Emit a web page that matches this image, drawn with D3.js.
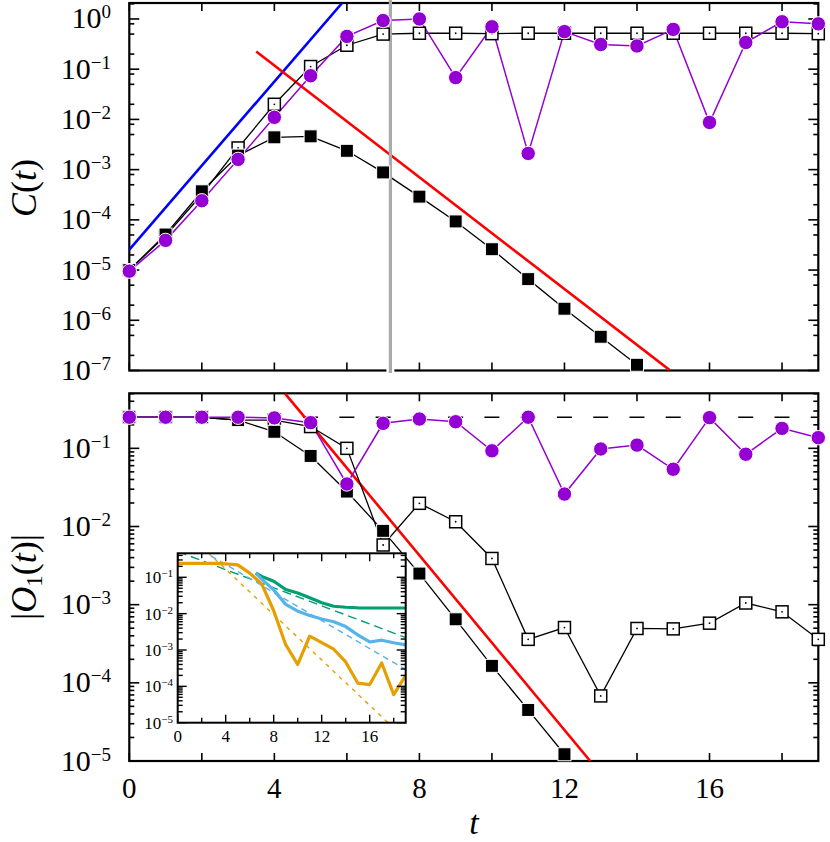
<!DOCTYPE html>
<html><head><meta charset="utf-8">
<script src="https://cdn.jsdelivr.net/npm/d3@7"></script>
<style>body{margin:0;background:#fff}svg{display:block}</style>
</head><body><svg id="c" width="830" height="842"></svg>
<script>
// ---------------- data ----------------
const times = [0,1,2,3,4,5,6,7,8,9,10,11,12,13,14,15,16,17,18,19];
// top panel C(t)
const cFilled = [1.0e-5,5.1e-5,3.7e-4,1.9e-3,4.4e-3,4.6e-3,2.37e-3,8.8e-4,2.9e-4,9.3e-5,2.6e-5,6.6e-6,1.7e-6,4.7e-7,1.3e-7];
const cOpen   = [1.0e-5,4.8e-5,3.2e-4,2.7e-3,0.020,0.113,0.30,0.50,0.52,0.52,0.51,0.52,0.52,0.52,0.52,0.52,0.52,0.52,0.52,0.51];
const cPurple = [0.95e-5,3.9e-5,2.4e-4,1.6e-3,0.011,0.074,0.45,0.93,1.0,0.068,0.70,2.1e-3,0.56,0.31,0.29,0.62,8.7e-3,0.34,0.88,0.80];
const blueFitTop = [[0,2.55e-5],[5.87,2.08]];
const redFitTop  = [[3.5,0.225],[14.9,1.02e-7]];
const grayT = 7.2;
// bottom panel |O1(t)|
const oFilled = [0.25,0.25,0.25,0.23,0.163,0.08,0.028,8.8e-3,2.5e-3,6.5e-4,1.65e-4,4.5e-5,1.22e-5];
const oOpen   = [0.25,0.25,0.25,0.23,0.23,0.19,0.10,5.8e-3,0.0198,0.0115,3.9e-3,3.6e-4,5.1e-4,6.8e-5,4.96e-4,4.9e-4,5.8e-4,1.05e-3,8.1e-4,3.6e-4];
const oPurple = [0.25,0.25,0.25,0.25,0.245,0.213,0.035,0.209,0.237,0.219,0.093,0.25,0.026,0.098,0.11,0.054,0.247,0.084,0.18,0.137];
const redFitBot = [[4.29,0.506],[12.71,1.0e-5]];
const plateau = 0.25;
// inset
const insetOrange = [0.24,0.24,0.24,0.24,0.235,0.22,0.13,0.066,0.012,1.4e-3,4.0e-4,2.4e-3,1.6e-3,1.05e-3,4.7e-4,1.23e-4,1.12e-4,4.4e-4,5.9e-5,2.0e-4];
const insetT2 = [6.5,7,8,9,10,11,12,13,14,15,16,17,18,19];
const insetGreen = [0.13,0.105,0.078,0.046,0.037,0.0275,0.02,0.016,0.015,0.0145,0.0143,0.0143,0.0143,0.0143];
const insetBlue  = [0.13,0.089,0.045,0.018,0.0117,0.0089,0.0071,0.006,0.0044,0.0026,0.00166,0.00186,0.00158,0.00138];
const insetGreenFit  = [[0,0.51],[19,2.2e-3]];
const insetBlueFit   = [[2.0,0.546],[19,2.9e-4]];
const insetOrangeFit = [[2.0,0.70],[17.6,9.5e-6]];
// ticks
const xTickVals = [0,2,4,6,8,10,12,14,16,18];
const xTickLabels = [0,4,8,12,16];
const topExps = [0,-1,-2,-3,-4,-5,-6,-7];
const botExps = [-1,-2,-3,-4,-5];
const insetExps = [-1,-2,-3,-4,-5];

// ---------------- setup ----------------
const FONT = '"Liberation Serif","DejaVu Serif",serif';
const svg = d3.select('#c');
const x = d3.scaleLinear().domain([0,19]).range([129.3,818.3]);
const yTop = d3.scaleLog().domain([1e-7, 2.08]).range([370.5,3]);
const yBot = d3.scaleLog().domain([1e-5, 0.506]).range([761,393.3]);
const xIn = d3.scaleLinear().domain([0,19]).range([177.7,405.7]);
const yIn = d3.scaleLog().domain([1e-5, 0.457]).range([722.7,553.3]);

const defs = svg.append('defs');
function clip(id, xs, ys){
  defs.append('clipPath').attr('id',id).append('rect')
    .attr('x',xs.range()[0]).attr('y',ys.range()[1])
    .attr('width',xs.range()[1]-xs.range()[0]).attr('height',ys.range()[0]-ys.range()[1]);
}
clip('cTop',x,yTop); clip('cBot',x,yBot); clip('cIn',xIn,yIn);

function logTicks(ys, mults){
  const [lo,hi] = ys.domain();
  const out=[];
  for(let e=Math.floor(Math.log10(lo)); e<=Math.ceil(Math.log10(hi)); e++){
    for(const m of mults){ const v=m*Math.pow(10,e); if(v>=lo*0.999 && v<=hi*1.001) out.push(v); }
  }
  return out;
}

function frame(g, xs, ys, o){
  const [x0,x1]=xs.range(), [y1,y0]=ys.range();
  o.xTicks.forEach(v=>{
    const len = o.xMajor ? (o.xMajor(v)?o.xLen:o.xLenMinor) : o.xLen;
    g.append('line').attr('x1',xs(v)).attr('x2',xs(v)).attr('y1',y1).attr('y2',y1-len);
    g.append('line').attr('x1',xs(v)).attr('x2',xs(v)).attr('y1',y0).attr('y2',y0+len);
  });
  logTicks(ys,[1]).forEach(v=>{
    g.append('line').attr('x1',x0).attr('x2',x0+o.yLen).attr('y1',ys(v)).attr('y2',ys(v));
    g.append('line').attr('x1',x1).attr('x2',x1-o.yLen).attr('y1',ys(v)).attr('y2',ys(v));
  });
  logTicks(ys,o.minor).forEach(v=>{
    g.append('line').attr('x1',x0).attr('x2',x0+o.yLenMinor).attr('y1',ys(v)).attr('y2',ys(v));
    g.append('line').attr('x1',x1).attr('x2',x1-o.yLenMinor).attr('y1',ys(v)).attr('y2',ys(v));
  });
  g.selectAll('line').attr('stroke','#000').attr('stroke-width',o.tw);
  g.append('rect').attr('x',x0).attr('y',y0).attr('width',x1-x0).attr('height',y1-y0)
    .attr('fill','none').attr('stroke','#000').attr('stroke-width',o.fw);
}

function powLabel(g, xr, yb, exp, fs, sfs, dy){
  const t=g.append('text').attr('x',xr).attr('y',yb).attr('text-anchor','end')
    .style('font-family',FONT).style('font-size',fs+'px').attr('fill','#000');
  t.append('tspan').text('10');
  t.append('tspan').attr('dy',-dy).style('font-size',sfs+'px').text(exp===0?'0':'\u2212'+(-exp));
}

const line = (xs,ys)=>d3.line().x(d=>xs(d[0])).y(d=>ys(d[1]));
const pairs = (vals, ts)=>vals.map((v,i)=>[ts?ts[i]:times[i], v]);

function series(g, xs, ys, vals, kind){
  const pts = pairs(vals);
  g.append('path').attr('d',line(xs,ys)(pts)).attr('fill','none')
    .attr('stroke', kind==='purple' ? '#9400D3' : '#000').attr('stroke-width', kind==='purple'?1.5:1.3);
}
function markers(g, xs, ys, vals, kind){
  const pts = pairs(vals);
  if(kind==='filled'){
    g.selectAll(null).data(pts).enter().append('rect')
      .attr('x',d=>xs(d[0])-6.5).attr('y',d=>ys(d[1])-6.5).attr('width',13).attr('height',13)
      .attr('fill','#000').attr('stroke','#fff').attr('stroke-width',1);
  } else if(kind==='open'){
    g.selectAll(null).data(pts).enter().append('rect')
      .attr('x',d=>xs(d[0])-6).attr('y',d=>ys(d[1])-6).attr('width',12).attr('height',12)
      .attr('fill','#fff').attr('stroke','#000').attr('stroke-width',1.5);
    g.selectAll(null).data(pts).enter().append('circle')
      .attr('cx',d=>xs(d[0])).attr('cy',d=>ys(d[1])).attr('r',0.9).attr('fill','#000');
  } else {
    g.selectAll(null).data(pts).enter().append('circle')
      .attr('cx',d=>xs(d[0])).attr('cy',d=>ys(d[1])).attr('r',7.2)
      .attr('fill','#9400D3').attr('stroke','#fff').attr('stroke-width',1);
  }
}

const mainOpts = {xTicks:xTickVals, xLen:8, yLen:10, yLenMinor:5, tw:1.6, fw:2.2};

// ---------------- top panel ----------------
const gT = svg.append('g');
frame(gT.append('g'), x, yTop, Object.assign({minor:[2,5,8]}, mainOpts));
topExps.forEach(e=>powLabel(gT,111,yTop(Math.pow(10,e))+9.5,e,30,19,10));
const gTc = gT.append('g').attr('clip-path','url(#cTop)');
gTc.append('path').attr('d',line(x,yTop)(blueFitTop)).attr('stroke','#0000FF').attr('stroke-width',2.6).attr('fill','none');
gTc.append('path').attr('d',line(x,yTop)(redFitTop)).attr('stroke','#FF0000').attr('stroke-width',2.6).attr('fill','none');
series(gT,x,yTop,cOpen,'open');
series(gT,x,yTop,cFilled,'filled');
series(gT,x,yTop,cPurple,'purple');
gT.append('line').attr('x1',x(grayT)).attr('x2',x(grayT)).attr('y1',365).attr('y2',374).attr('stroke','#fff').attr('stroke-width',8);
gT.append('line').attr('x1',x(grayT)).attr('x2',x(grayT)).attr('y1',0).attr('y2',373).attr('stroke','#aaaaaa').attr('stroke-width',3.2);
markers(gT,x,yTop,cOpen,'open');
markers(gT,x,yTop,cFilled,'filled');
markers(gT,x,yTop,cPurple,'purple');

// ---------------- bottom panel ----------------
const gB = svg.append('g');
frame(gB.append('g'), x, yBot, Object.assign({minor:[2,3,4,5,6,7,8,9]}, mainOpts));
botExps.forEach(e=>powLabel(gB,111,yBot(Math.pow(10,e))+9.5,e,30,19,10));
xTickLabels.forEach(v=>gB.append('text').attr('x',x(v)).attr('y',798).attr('text-anchor','middle')
  .style('font-family',FONT).style('font-size','29px').text(v));
const gBc = gB.append('g').attr('clip-path','url(#cBot)');
gBc.append('path').attr('d',line(x,yBot)([[0,plateau],[19,plateau]])).attr('stroke','#000').attr('stroke-width',1.4)
  .attr('stroke-dasharray','15,21.26').attr('stroke-dashoffset',7.5).attr('fill','none');
gBc.append('path').attr('d',line(x,yBot)(redFitBot)).attr('stroke','#FF0000').attr('stroke-width',2.6).attr('fill','none');
series(gB,x,yBot,oOpen,'open');
series(gB,x,yBot,oFilled,'filled');
series(gB,x,yBot,oPurple,'purple');
markers(gB,x,yBot,oOpen,'open');
markers(gB,x,yBot,oFilled,'filled');
markers(gB,x,yBot,oPurple,'purple');

// ---------------- inset ----------------
const gI = svg.append('g');
gI.append('rect').attr('x',xIn.range()[0]).attr('y',yIn.range()[1])
  .attr('width',xIn.range()[1]-xIn.range()[0]).attr('height',yIn.range()[0]-yIn.range()[1]).attr('fill','#fff');
const gIc = gI.append('g').attr('clip-path','url(#cIn)');
gIc.append('path').attr('d',line(xIn,yIn)(insetGreenFit)).attr('stroke','#009E73').attr('stroke-width',1.4).attr('stroke-dasharray','9,5').attr('fill','none');
gIc.append('path').attr('d',line(xIn,yIn)(insetBlueFit)).attr('stroke','#56B4E9').attr('stroke-width',1.4).attr('stroke-dasharray','6,4.5').attr('fill','none');
gIc.append('path').attr('d',line(xIn,yIn)(insetOrangeFit)).attr('stroke','#E69F00').attr('stroke-width',1.4).attr('stroke-dasharray','4,5').attr('fill','none');
gIc.append('path').attr('d',line(xIn,yIn)(pairs(insetGreen,insetT2))).attr('stroke','#009E73').attr('stroke-width',3.2).attr('fill','none').attr('stroke-linejoin','round');
gIc.append('path').attr('d',line(xIn,yIn)(pairs(insetBlue,insetT2))).attr('stroke','#56B4E9').attr('stroke-width',3.2).attr('fill','none').attr('stroke-linejoin','round');
gIc.append('path').attr('d',line(xIn,yIn)(pairs(insetOrange))).attr('stroke','#E69F00').attr('stroke-width',3.2).attr('fill','none').attr('stroke-linejoin','round');
frame(gI.append('g'), xIn, yIn, {xTicks:xTickVals, xMajor:v=>v%4===0, xLen:8, xLenMinor:5, yLen:9, yLenMinor:5, minor:[2,3,4,5,6,7,8,9], tw:1.4, fw:2});
insetExps.forEach(e=>powLabel(gI,173,yIn(Math.pow(10,e))+6,e,17,11,6));
xTickLabels.forEach(v=>gI.append('text').attr('x',xIn(v)).attr('y',742).attr('text-anchor','middle')
  .style('font-family',FONT).style('font-size','17px').text(v));

// ---------------- axis titles ----------------
const yl1 = svg.append('text').attr('transform','translate(36,188) rotate(-90)').attr('text-anchor','middle')
  .style('font-family',FONT).style('font-size','36px');
yl1.append('tspan').style('font-style','italic').text('C');
yl1.append('tspan').text('(');
yl1.append('tspan').style('font-style','italic').text('t');
yl1.append('tspan').text(')');
const yl2 = svg.append('text').attr('transform','translate(36,577) rotate(-90)').attr('text-anchor','middle')
  .style('font-family',FONT).style('font-size','36px');
yl2.append('tspan').text('|');
yl2.append('tspan').style('font-style','italic').text('O');
yl2.append('tspan').attr('dy',6).style('font-size','23px').text('1');
yl2.append('tspan').attr('dy',-6).text('(');
yl2.append('tspan').style('font-style','italic').text('t');
yl2.append('tspan').text(')|');
svg.append('text').attr('x',474).attr('y',834).attr('text-anchor','middle')
  .style('font-family',FONT).style('font-size','34px').style('font-style','italic').text('t');
</script></body></html>
